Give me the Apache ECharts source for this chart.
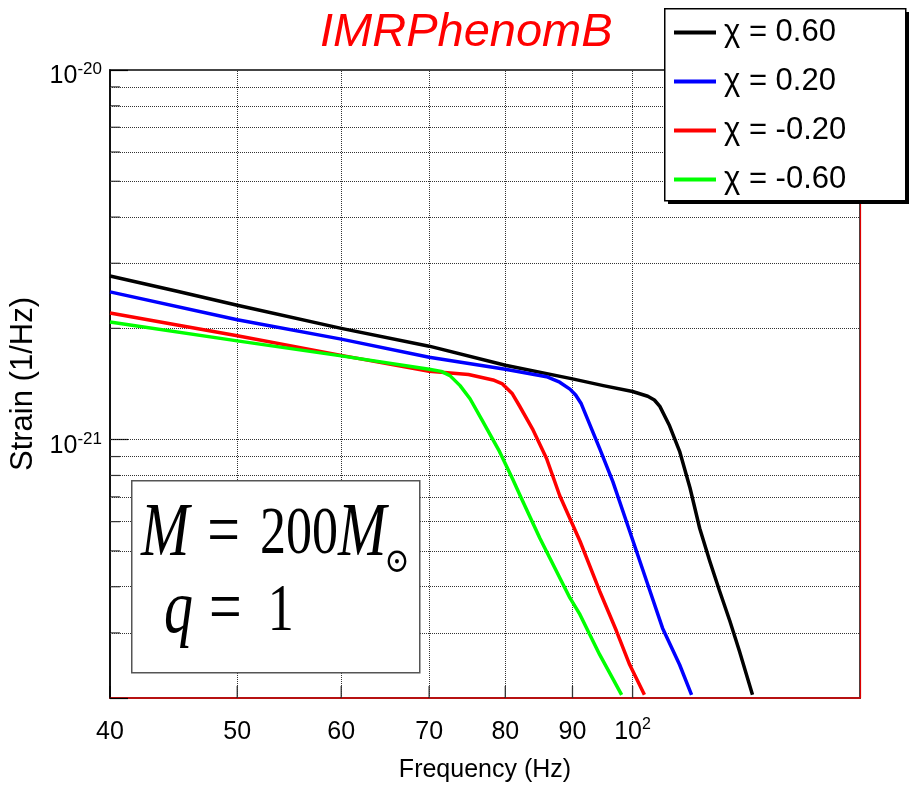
<!DOCTYPE html>
<html><head><meta charset="utf-8">
<script src="https://cdn.jsdelivr.net/npm/echarts@6/dist/echarts.min.js"></script>
<style>html,body{margin:0;padding:0;background:#fff}#c{width:913px;height:785px}</style>
</head><body><div id="c"></div>
<script>
// Strain values are in units of 1e-21 (1/Hz)
const strainUnitExp = -21;
const seriesNames = ['χ = 0.60', 'χ = 0.20', 'χ = -0.20', 'χ = -0.60'];
const seriesColors = ['#000000', '#0000ff', '#ff0000', '#00ff00'];

const freqChiP060 = [40, 45, 50, 60, 70, 80, 90, 95, 100, 102.7, 103.9, 104.9, 106.7, 108.6, 110.6, 112.5, 114.5, 116.5, 118.6, 120.6, 123.4];
const strainChiP060 = [2.77, 2.52, 2.31, 2.00, 1.79, 1.59, 1.46, 1.40, 1.35, 1.31, 1.28, 1.23, 1.09, 0.93, 0.74, 0.575, 0.469, 0.389, 0.323, 0.268, 0.204];

const freqChiP020 = [40, 50, 60, 70, 80, 86, 88.0, 89.6, 90.5, 91.4, 94.4, 96.6, 99.5, 102.5, 105.4, 108.6, 110.9];
const strainChiP020 = [2.51, 2.11, 1.87, 1.67, 1.55, 1.48, 1.43, 1.37, 1.32, 1.25, 0.946, 0.77, 0.565, 0.414, 0.309, 0.246, 0.204];

const freqChiM020 = [40, 50, 60, 70, 75, 78.3, 79.6, 81.0, 82.0, 83.9, 86.0, 88.0, 91.2, 94.4, 97.2, 99.5, 102.1];
const strainChiM020 = [2.20, 1.91, 1.69, 1.53, 1.50, 1.45, 1.415, 1.33, 1.235, 1.07, 0.889, 0.706, 0.531, 0.389, 0.304, 0.246, 0.204];

const freqChiM060 = [40, 50, 60, 70, 71.5, 72.6, 73.9, 75.2, 76.9, 79.2, 81.0, 82.3, 85.0, 89.6, 91.2, 94.4, 98.1];
const strainChiM060 = [2.08, 1.85, 1.685, 1.55, 1.53, 1.49, 1.40, 1.29, 1.12, 0.928, 0.785, 0.693, 0.541, 0.373, 0.336, 0.262, 0.204];

const xMin = 40, xMax = 149;
const yMin = 0.2, yMax = 10;
const xTickValues = [40, 50, 60, 70, 80, 90, 100];
const xTickLabels = ['40', '50', '60', '70', '80', '90', '10{s|2}'];
const xGridValues = [50, 60, 70, 80, 90, 100];
const yGridValues = [0.3, 0.4, 0.5, 0.6, 0.7, 0.8, 0.9, 1, 2, 3, 4, 5, 6, 7, 8, 9];
const yMinorTickValues = [0.3, 0.4, 0.5, 0.6, 0.7, 0.8, 0.9, 2, 3, 4, 5, 6, 7, 8, 9];

const zip = (a, b) => a.map((v, i) => [v, b[i]]);
const curves = [
  zip(freqChiP060, strainChiP060),
  zip(freqChiP020, strainChiP020),
  zip(freqChiM020, strainChiM020),
  zip(freqChiM060, strainChiM060)
];

const chart = echarts.init(document.getElementById('c'), null, {renderer: 'canvas'});
const sans = 'Liberation Sans, Arial, sans-serif';
const serif = 'Liberation Serif, DejaVu Serif, serif';

const series = [
  {
    type: 'line', name: '_grid', data: [[xMin, yMin]], symbol: 'none',
    lineStyle: {opacity: 0}, silent: true, z: 1, legendHoverLink: false,
    markLine: {
      silent: true, symbol: 'none', animation: false,
      label: {show: false},
      lineStyle: {type: 'dotted', color: '#333', width: 1},
      data: xGridValues.map(v => ({xAxis: v})).concat(yGridValues.map(v => ({yAxis: v})))
    }
  },
  {
    type: 'scatter', name: '_xticks', data: xTickValues.map(v => [v, yMin]),
    symbol: 'rect', symbolSize: [1.3, 12], symbolOffset: [0, -6],
    itemStyle: {color: '#000'}, silent: true, z: 3, clip: false,
    label: {
      show: true, position: 'bottom', distance: 19,
      formatter: p => xTickLabels[p.dataIndex],
      color: '#000', opacity: 1, fontFamily: sans, fontSize: 25, lineHeight: 30,
      rich: {s: {fontFamily: sans, fontSize: 16, lineHeight: 16, verticalAlign: 'top', color: '#000'}}
    }
  },
  {
    type: 'scatter', name: '_yticks', data: yMinorTickValues.map(v => [xMin, v]),
    symbol: 'rect', symbolSize: [10, 1.2], symbolOffset: [5, 0],
    itemStyle: {color: '#000'}, silent: true, z: 3, clip: false
  }
];
curves.forEach((d, i) => {
  series.push({
    type: 'line', name: seriesNames[i], data: d, showSymbol: false, symbol: 'none',
    lineStyle: {color: seriesColors[i], width: 3.5, join: 'round'}, itemStyle: {color: seriesColors[i]},
    z: 5, clip: true
  });
});

const option = {
  animation: false,
  backgroundColor: '#fff',
  title: {
    text: 'IMRPhenomB', left: 315, top: 4,
    textStyle: {color: '#ff0000', fontStyle: 'italic', fontWeight: 'normal', fontFamily: sans, fontSize: 47}
  },
  legend: {
    data: seriesNames, orient: 'vertical', left: 664, top: 8,
    icon: 'rect', itemWidth: 42, itemHeight: 4, itemGap: 18,
    padding: [9, 58, 9, 10],
    textStyle: {fontFamily: sans, fontSize: 31, lineHeight: 30, color: '#000', padding: [0, 0, 0, 3]},
    selectedMode: false, z: 12
  },
  grid: {left: 110, top: 70, right: 53, bottom: 87, outerBoundsMode: 'none', containLabel: false,
         show: true, borderColor: '#444', borderWidth: 2, backgroundColor: '#fff'},
  xAxis: {
    type: 'log', logBase: 10, min: xMin, max: xMax,
    name: 'Frequency (Hz)', nameLocation: 'middle', nameGap: 60,
    nameTextStyle: {fontFamily: sans, fontSize: 25, color: '#000'},
    axisLine: {show: true, lineStyle: {color: '#dd0000', width: 1.5}},
    axisTick: {show: false}, axisLabel: {show: false}, splitLine: {show: false}
  },
  yAxis: [{
    type: 'log', logBase: 10, min: yMin, max: yMax,
    name: 'Strain (1/Hz)', nameLocation: 'middle', nameGap: 50,
    nameTextStyle: {fontFamily: sans, fontSize: 31, color: '#000'},
    axisLine: {show: true, lineStyle: {color: '#000', width: 1.5}},
    axisTick: {show: true, inside: true, length: 18, lineStyle: {color: '#000', width: 1.2}},
    splitLine: {show: false},
    axisLabel: {
      margin: 8, color: '#000', fontFamily: sans, fontSize: 25, lineHeight: 30, padding: [12, 0, 0, 0],
      formatter: v => {
        const e = Math.log10(v);
        if (v < 1 || Math.abs(e - Math.round(e)) > 1e-6) return '';
        return '10{s|' + (Math.round(e) + strainUnitExp) + '}';
      },
      rich: {s: {fontFamily: sans, fontSize: 17, lineHeight: 17, verticalAlign: 'top', color: '#000'}}
    }
  }, {
    type: 'log', logBase: 10, min: yMin, max: yMax, position: 'right',
    axisLine: {show: true, lineStyle: {color: '#dd0000', width: 1.2}},
    axisTick: {show: false}, axisLabel: {show: false}, splitLine: {show: false}
  }],
  series: series,
  graphic: [
    // legend frame with hard drop shadow
    {type: 'rect', left: 668, top: 12, shape: {width: 241, height: 192}, style: {fill: '#000'}, z: 10},
    {type: 'rect', left: 664, top: 8, shape: {width: 241, height: 192},
     style: {fill: '#fff', stroke: '#000', lineWidth: 1.5}, z: 11},
    // annotation box
    {type: 'rect', left: 131, top: 480, shape: {width: 288, height: 192},
     style: {fill: '#fff', stroke: '#555', lineWidth: 1.5}, z: 6},
    {type: 'text', x: 141, y: 535, scaleY: 1.3, z: 7,
     style: {text: '{i|M}{e|=}{n|200}{i|M}', align: 'left', verticalAlign: 'middle',
       rich: {i: {fontFamily: serif, fontStyle: 'italic', fontSize: 58, fill: '#000'},
              e: {fontFamily: serif, fontSize: 58, fill: '#000', padding: [0, 20, 0, 18]},
              n: {fontFamily: serif, fontSize: 52, fill: '#000'}}}},
    {type: 'text', x: 397, y: 563, scaleY: 1.15, z: 7,
     style: {text: '⊙', align: 'center', verticalAlign: 'middle', fontFamily: 'DejaVu Serif, serif', fontSize: 30, fill: '#000'}},
    {type: 'text', x: 164, y: 612, scaleY: 1.3, z: 7,
     style: {text: '{i|q}{e|=}{n|1}', align: 'left', verticalAlign: 'middle',
       rich: {i: {fontFamily: serif, fontStyle: 'italic', fontSize: 58, fill: '#000'},
              e: {fontFamily: serif, fontSize: 58, fill: '#000', padding: [0, 26, 0, 16]},
              n: {fontFamily: serif, fontSize: 52, fill: '#000'}}}}
  ]
};
chart.setOption(option);
</script>
</body></html>
